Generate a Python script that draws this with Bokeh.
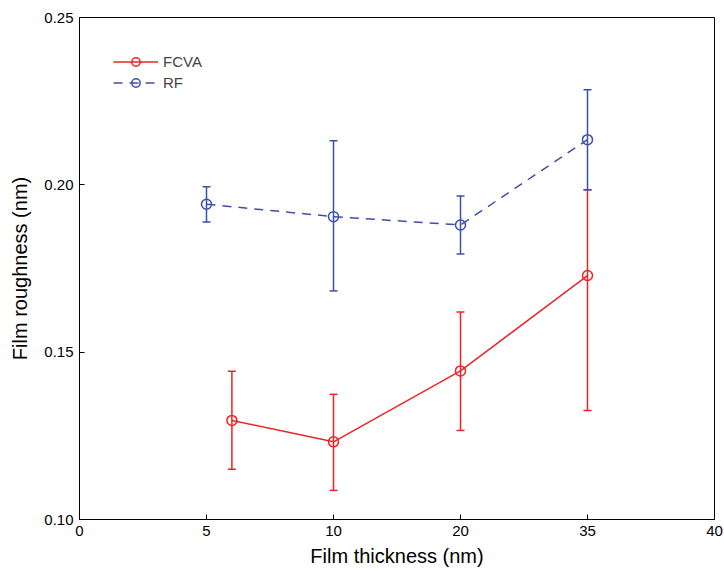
import numpy as np
from bokeh.plotting import figure
from bokeh.models import ColumnDataSource, Whisker, TeeHead, FixedTicker, Range1d, Legend, LegendItem
from bokeh.embed import file_html
from bokeh.resources import INLINE

# ---- data ----
x_tick_labels = ["0", "5", "10", "20", "35", "40"]
x_tick_values = [0, 5, 10, 20, 35, 40]

fcva_thickness = [6, 10, 20, 35]
fcva_rough = [0.1296, 0.1232, 0.1444, 0.1729]
fcva_lower = [0.1150, 0.1087, 0.1266, 0.1326]
fcva_upper = [0.1443, 0.1374, 0.1620, 0.1985]

rf_thickness = [5, 10, 20, 35]
rf_rough = [0.1942, 0.1905, 0.1880, 0.2135]
rf_lower = [0.1889, 0.1683, 0.1793, 0.1985]
rf_upper = [0.1994, 0.2132, 0.1967, 0.2284]

y_ticks = [0.10, 0.15, 0.20, 0.25]

# piecewise-even x axis: each labelled thickness sits at its tick index
tick_pos = list(range(len(x_tick_values)))
def to_pos(t):
    return list(np.interp(t, x_tick_values, tick_pos))

RED = "#ee2424"
BLUE = "#3b50ad"
FONT = "Liberation Sans"

p = figure(width=724, height=572, output_backend="svg", toolbar_location=None,
           x_range=Range1d(0, 5), y_range=Range1d(0.10, 0.25))
p.min_border_left = 79
p.min_border_right = 10
p.min_border_top = 17
p.min_border_bottom = 53
p.background_fill_color = "white"
p.border_fill_color = "white"
p.outline_line_color = "black"
p.outline_line_width = 1
p.xgrid.visible = False
p.ygrid.visible = False

fsrc = ColumnDataSource(dict(x=to_pos(fcva_thickness), y=fcva_rough, lo=fcva_lower, hi=fcva_upper))
rsrc = ColumnDataSource(dict(x=to_pos(rf_thickness), y=rf_rough, lo=rf_lower, hi=rf_upper))

fw = Whisker(source=fsrc, base="x", lower="lo", upper="hi", line_color=RED, line_width=1.5,
             upper_head=TeeHead(size=8, line_color=RED, line_width=1.5),
             lower_head=TeeHead(size=8, line_color=RED, line_width=1.5))
p.add_layout(fw)
fl = p.line("x", "y", source=fsrc, line_color=RED, line_width=1.5)
fm = p.scatter("x", "y", source=fsrc, marker="circle", size=10, fill_color=None,
               line_color=RED, line_width=1.5)

rw = Whisker(source=rsrc, base="x", lower="lo", upper="hi", line_color=BLUE, line_width=1.5,
             upper_head=TeeHead(size=8, line_color=BLUE, line_width=1.5),
             lower_head=TeeHead(size=8, line_color=BLUE, line_width=1.5))
p.add_layout(rw)
rl = p.line("x", "y", source=rsrc, line_color=BLUE, line_width=1.5, line_dash="9 7")
rm = p.scatter("x", "y", source=rsrc, marker="circle", size=10, fill_color=None,
               line_color=BLUE, line_width=1.5)

# axes
p.xaxis.ticker = FixedTicker(ticks=tick_pos)
p.xaxis.major_label_overrides = {i: s for i, s in zip(tick_pos, x_tick_labels)}
p.yaxis.ticker = FixedTicker(ticks=y_ticks)
p.yaxis.major_label_overrides = {v: f"{v:.2f}" for v in y_ticks}
for ax in (p.xaxis, p.yaxis):
    ax.major_tick_in = 5
    ax.major_tick_out = 0
    ax.minor_tick_in = 0
    ax.minor_tick_out = 0
    ax.axis_line_color = "black"
    ax.major_tick_line_color = "black"
    ax.major_label_text_font = FONT
    ax.major_label_text_font_size = "15px"
    ax.major_label_text_color = "black"
    ax.axis_label_text_font = FONT
    ax.axis_label_text_font_size = "20px"
    ax.axis_label_text_font_style = "normal"
    ax.axis_label_text_color = "black"
p.xaxis.axis_label = "Film thickness (nm)"
p.yaxis.axis_label = "Film roughness (nm)"
p.xaxis.major_label_standoff = 6
p.yaxis.major_label_standoff = 6
p.xaxis.axis_label_standoff = 6
p.yaxis.axis_label_standoff = 10

legend = Legend(items=[LegendItem(label="FCVA", renderers=[fl, fm]),
                       LegendItem(label="RF", renderers=[rl, rm])],
                location="top_left")
legend.border_line_color = None
legend.background_fill_alpha = 0
legend.margin = 34
legend.padding = 0
legend.glyph_width = 45
legend.glyph_height = 21
legend.label_height = 21
legend.spacing = 0
legend.label_text_font = FONT
legend.label_text_font_size = "15px"
legend.label_standoff = 5
p.add_layout(legend)

open("out.html", "w").write(file_html(p, INLINE))
